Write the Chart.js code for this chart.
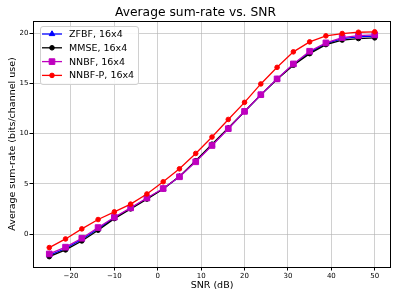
<!DOCTYPE html>
<html><head><meta charset="utf-8">
<script src="https://cdn.jsdelivr.net/npm/chart.js@4/dist/chart.umd.min.js"></script>
<style>html,body{margin:0;padding:0;background:#fff}#wrap{width:399px;height:299px}</style>
</head><body><div id="wrap"><canvas id="c" width="399" height="299"></canvas></div>
<script>
const snr = [-25, -21.25, -17.5, -13.75, -10, -6.25, -2.5, 1.25, 5, 8.75, 12.5, 16.25, 20, 23.75, 27.5, 31.25, 35, 38.75, 42.5, 46.25, 50];
const zfbf = [-2.1, -1.42, -0.52, 0.55, 1.62, 2.57, 3.55, 4.52, 5.72, 7.24, 8.86, 10.5, 12.2, 13.85, 15.42, 16.87, 18.08, 18.95, 19.45, 19.62, 19.7];
const mmse = [-2.23, -1.56, -0.67, 0.40, 1.55, 2.52, 3.49, 4.5, 5.75, 7.3, 8.95, 10.55, 12.2, 13.85, 15.4, 16.8, 17.95, 18.85, 19.3, 19.45, 19.52];
const nnbf = [-1.96, -1.29, -0.40, 0.66, 1.69, 2.62, 3.6, 4.54, 5.71, 7.20, 8.82, 10.49, 12.21, 13.87, 15.44, 16.93, 18.19, 19.02, 19.55, 19.75, 19.82];
const nnbfp = [-1.33, -0.47, 0.53, 1.46, 2.22, 2.99, 4.0, 5.21, 6.50, 8.03, 9.66, 11.41, 13.11, 14.94, 16.59, 18.13, 19.12, 19.72, 19.95, 20.08, 20.12];
const seriesNames = ["ZFBF, 16x4", "MMSE, 16x4", "NNBF, 16x4", "NNBF-P, 16x4"];
const xTicks = [-20, -10, 0, 10, 20, 30, 40, 50];
const yTicks = [0, 5, 10, 15, 20];

const FONT = "'DejaVu Sans', sans-serif";
function pts(ys){ return snr.map((x,i)=>({x:x, y:ys[i]})); }
function fmt(v){ return v < 0 ? '\u2212' + Math.abs(v) : String(v); }

const styles = [
  {color:'#0000ff', pointStyle:'triangle', r:3.2},
  {color:'#000000', pointStyle:'circle', r:2.3},
  {color:'#bf00bf', pointStyle:'rect', r:4.0},
  {color:'#ff0000', pointStyle:'circle', r:2.3}
];
const allSeries = [zfbf, mmse, nnbf, nnbfp];

const datasets = allSeries.map((s,i)=>({
  label: seriesNames[i],
  data: pts(s),
  borderColor: styles[i].color,
  backgroundColor: styles[i].color,
  pointBackgroundColor: styles[i].color,
  pointBorderColor: styles[i].color,
  pointStyle: styles[i].pointStyle,
  pointRadius: styles[i].r,
  pointBorderWidth: 1,
  borderWidth: 1.3,
  tension: 0,
  order: 4 - i
}));

const overlay = {
  id: 'overlay',
  afterDatasetsDraw(chart){
    const ctx = chart.ctx, a = chart.chartArea;
    ctx.save();
    ctx.strokeStyle = '#000'; ctx.lineWidth = 1;
    ctx.strokeRect(Math.round(a.left)+0.5, Math.round(a.top)+0.5, Math.round(a.right-a.left)-1, Math.round(a.bottom-a.top));
    // legend
    const bx = 40.5, by = 26.5, bw = 98, bh = 58, rr = 2.5;
    ctx.beginPath();
    ctx.moveTo(bx+rr, by); ctx.lineTo(bx+bw-rr, by); ctx.quadraticCurveTo(bx+bw, by, bx+bw, by+rr);
    ctx.lineTo(bx+bw, by+bh-rr); ctx.quadraticCurveTo(bx+bw, by+bh, bx+bw-rr, by+bh);
    ctx.lineTo(bx+rr, by+bh); ctx.quadraticCurveTo(bx, by+bh, bx, by+bh-rr);
    ctx.lineTo(bx, by+rr); ctx.quadraticCurveTo(bx, by, bx+rr, by);
    ctx.closePath();
    ctx.fillStyle = 'rgba(255,255,255,0.85)'; ctx.fill();
    ctx.strokeStyle = '#d0d0d0'; ctx.lineWidth = 1; ctx.stroke();
    const rows = [34, 47.8, 61.6, 75.4];
    chart.data.datasets.forEach((ds,i)=>{
      const y = rows[i];
      ctx.strokeStyle = ds.borderColor; ctx.lineWidth = 1.3;
      ctx.beginPath(); ctx.moveTo(42, y); ctx.lineTo(62, y); ctx.stroke();
      ctx.fillStyle = ds.backgroundColor; ctx.strokeStyle = ds.borderColor; ctx.lineWidth = 1;
      Chart.helpers.drawPoint(ctx, {pointStyle: ds.pointStyle, radius: ds.pointRadius, rotation: 0, borderWidth: 1}, 52, y);
      ctx.fillStyle = '#000'; ctx.font = '9.5px ' + FONT; ctx.textBaseline = 'middle'; ctx.textAlign = 'left';
      ctx.fillText(ds.label, 69, y + 0.5);
    });
    ctx.restore();
  }
};

new Chart(document.getElementById('c'), {
  type: 'line',
  data: { datasets },
  plugins: [overlay],
  options: {
    responsive: false,
    animation: false,
    devicePixelRatio: 1,
    layout: { padding: { left: 0, right: 8, top: 0, bottom: 0 } },
    plugins: {
      legend: { display: false },
      tooltip: { enabled: false },
      title: { display: true, text: 'Average sum-rate vs. SNR', color: '#000',
        font: { family: FONT, size: 12.3, weight: 'normal' }, padding: { top: 5.6, bottom: 0.6 } }
    },
    scales: {
      x: {
        type: 'linear', min: -28.75, max: 53.75,
        afterBuildTicks: s => { s.ticks = xTicks.map(v => ({value: v})); },
        afterFit: s => { s.height = 32; },
        ticks: { callback: v => fmt(v), color: '#000', font: { family: FONT, size: 7 }, padding: 1, maxRotation: 0, autoSkip: false },
        grid: { color: 'rgba(176,176,176,0.6)', lineWidth: 1, tickLength: 3.5, tickColor: '#000', drawTicks: true },
        border: { display: false },
        title: { display: true, text: 'SNR (dB)', color: '#000', font: { family: FONT, size: 9.5 }, padding: { top: 0, bottom: 7.5 } }
      },
      y: {
        type: 'linear', min: -3.26, max: 21.2,
        afterBuildTicks: s => { s.ticks = yTicks.map(v => ({value: v})); },
        afterFit: s => { s.width = 33; },
        ticks: { callback: v => fmt(v), color: '#000', font: { family: FONT, size: 7 }, padding: 1, autoSkip: false },
        grid: { color: 'rgba(176,176,176,0.6)', lineWidth: 1, tickLength: 3.5, tickColor: '#000', drawTicks: true },
        border: { display: false },
        title: { display: true, text: 'Average sum-rate (bits/channel use)', color: '#000', font: { family: FONT, size: 9.5 }, padding: { top: 6.5, bottom: 0 } }
      }
    }
  }
});
</script></body></html>
